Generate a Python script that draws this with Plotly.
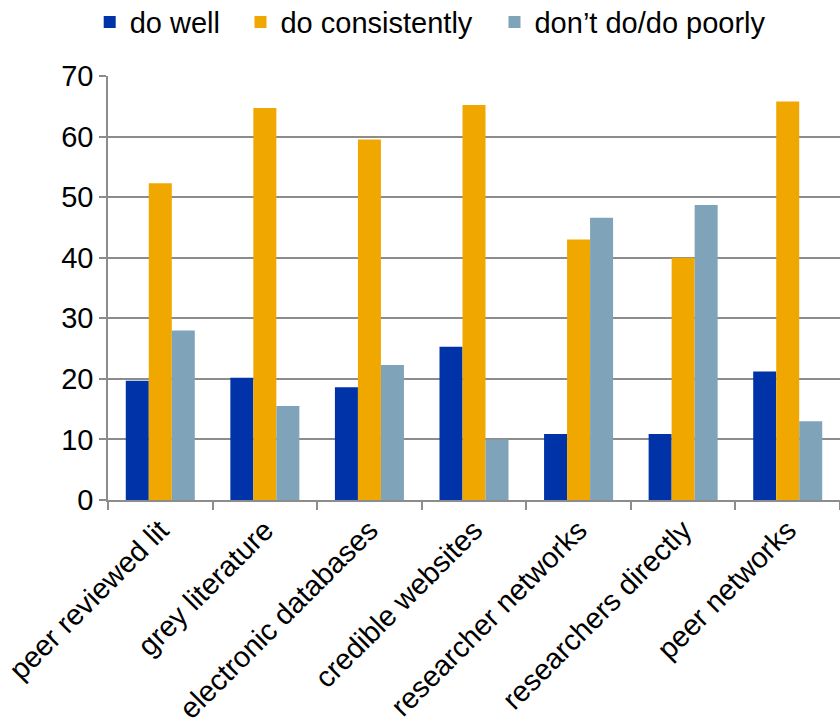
import plotly.graph_objects as go

categories = ["peer reviewed lit", "grey literature", "electronic databases",
              "credible websites", "researcher networks", "researchers directly",
              "peer networks"]
do_well = [19.7, 20.2, 18.6, 25.3, 10.9, 10.9, 21.2]
do_consistently = [52.3, 64.7, 59.5, 65.2, 43.0, 40.0, 65.8]
dont_do = [28.0, 15.5, 22.3, 10.0, 46.6, 48.7, 13.0]

series_names = ["do well", "do consistently", "don\u2019t do/do poorly"]
series_values = [do_well, do_consistently, dont_do]
series_colors = ["#0033A8", "#F0A800", "#7FA3B8"]

# one legend box per series so each entry can sit at its own spot
legend_ids = ["legend", "legend2", "legend3"]
legend_x = [-0.025, 0.181, 0.528]

fig = go.Figure()
for name, vals, color, lid in zip(series_names, series_values, series_colors, legend_ids):
    fig.add_trace(go.Bar(x=categories, y=vals, name=name, legend=lid,
                         marker=dict(color=color, line=dict(width=0))))

font = dict(family="Liberation Sans, Arial, sans-serif", size=29, color="#000000")

legend_common = dict(orientation="h", xanchor="left", y=1.127, yanchor="middle",
                     font=font, itemwidth=30, bgcolor="rgba(0,0,0,0)")

layout_legends = {}
for lid, lx in zip(legend_ids, legend_x):
    layout_legends[lid] = dict(legend_common, x=lx)

fig.update_layout(
    width=840, height=724,
    margin=dict(l=108, r=0, t=76, b=224, autoexpand=False),
    paper_bgcolor="white", plot_bgcolor="white",
    font=font,
    barmode="group", bargap=0.34, bargroupgap=0,
    showlegend=True,
    xaxis=dict(tickangle=-45, showline=True, linecolor="#8c8c8c", linewidth=1.5,
               ticks="outside", tickson="boundaries", ticklen=8, tickcolor="#8c8c8c",
               tickwidth=1.5, showgrid=False, tickfont=font),
    yaxis=dict(range=[0, 70], dtick=10, showline=True, linecolor="#8c8c8c", linewidth=1.5,
               ticks="outside", ticklen=7, tickcolor="#8c8c8c", tickwidth=1.5,
               showgrid=True, gridcolor="#8c8c8c", gridwidth=1.5, zeroline=False,
               tickfont=font, fixedrange=True),
    **layout_legends,
)

fig.write_html("out.html")
